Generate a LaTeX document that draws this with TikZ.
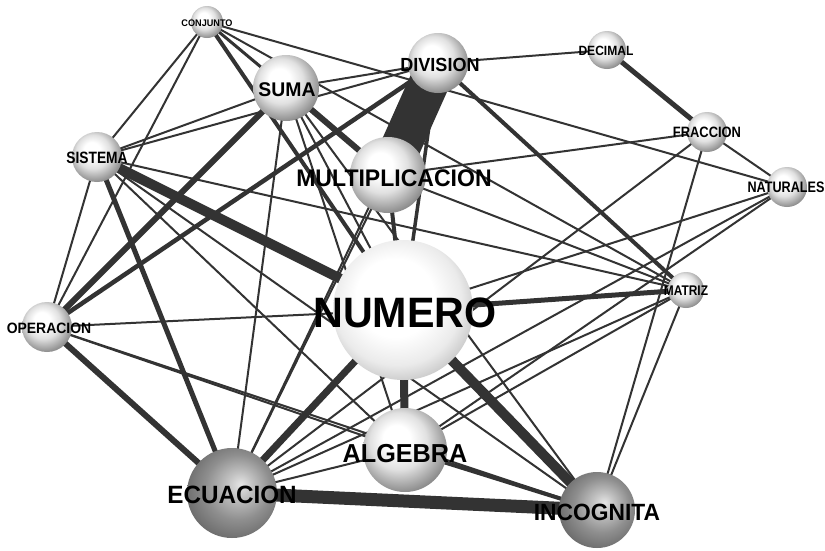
\documentclass[tikz,border=0pt]{standalone}
\usepackage{graphicx}
\usepackage{fontspec}
\setmainfont{Liberation Sans}
\pgfdeclarelayer{paper}
\pgfdeclarelayer{bg}
\pgfsetlayers{paper,bg,main}
\pgfdeclareradialshading{sphL}{\pgfpoint{-6bp}{8bp}}{color(0bp)=(white); color(8bp)=(white); color(17bp)=(black!12); color(25bp)=(black!35); color(31bp)=(black!52); color(50bp)=(black!58)}
\pgfdeclareradialshading{sphN}{\pgfpoint{-4bp}{6bp}}{color(0bp)=(white); color(14bp)=(white); color(23bp)=(black!8); color(29bp)=(black!22); color(50bp)=(black!28)}
\pgfdeclareradialshading{sphD}{\pgfpoint{5bp}{5bp}}{color(0bp)=(black!10); color(7bp)=(black!24); color(18bp)=(black!44); color(28bp)=(black!57); color(50bp)=(black!64)}
\definecolor{edgec}{gray}{0.2}
\newcommand\fsz[1]{\fontsize{#1}{#1}\selectfont\bfseries}
\newcommand\lab[3]{\scalebox{#1}[1]{\fsz{#2}#3}}
\tikzset{
  sph/.style={circle, inner sep=0pt, minimum size=#1},
  lnk/.style={draw=edgec, line cap=butt},
  lbl/.style={inner sep=0pt, text=black}
}
\begin{document}
\begin{tikzpicture}[x=1pt,y=-1pt]
\begin{pgfonlayer}{paper}
\fill[white] (0,0) rectangle (825,550);
\end{pgfonlayer}
\useasboundingbox (0,0) rectangle (825,550);
% spheres
\node[sph=32pt, shading=sphL] (con) at (207,22) {};
\node[sph=66pt, shading=sphL] (sum) at (286,88) {};
\node[sph=60pt, shading=sphL] (div) at (438,63) {};
\node[sph=38pt, shading=sphL] (dec) at (607,50) {};
\node[sph=40pt, shading=sphL] (fra) at (707,132) {};
\node[sph=40pt, shading=sphL] (nat) at (787,187) {};
\node[sph=50pt, shading=sphL] (sis) at (97,157) {};
\node[sph=76pt, shading=sphL] (mul) at (388,175) {};
\node[sph=140pt, shading=sphN] (num) at (403,310) {};
\node[sph=50pt, shading=sphL] (ope) at (47,327) {};
\node[sph=90pt, shading=sphD] (ecu) at (232,493) {};
\node[sph=84pt, shading=sphL] (alg) at (405,450) {};
\node[sph=76pt, shading=sphD] (inc) at (597,510) {};
\node[sph=36pt, shading=sphL] (mat) at (686,290) {};
% connectors
\begin{pgfonlayer}{bg}
\foreach \a/\b/\w in {
  div/mul/40, sis/num/10, ecu/inc/13, num/inc/10, num/ecu/7, num/alg/8,
  num/mat/5, dec/fra/5, div/mat/4, sum/ope/6, div/ope/4.5, sum/mul/6,
  sis/ecu/5, ope/ecu/6, con/num/4, alg/inc/4, mul/num/4, div/num/3.5, con/sum/3,
  con/sis/2, con/ope/2, con/nat/2, con/mat/2,
  sis/sum/2, sis/div/2, sis/mat/2, sis/alg/2, sis/inc/2, sis/ope/2,
  ope/num/2, ope/alg/2, ope/inc/2,
  ecu/sum/2, ecu/div/2, ecu/mul/2, ecu/alg/2, ecu/mat/2, ecu/nat/2, ecu/fra/2,
  sum/div/2, sum/alg/2, sum/inc/2, sum/num/2,
  mul/fra/2, mul/mat/2, div/dec/2, num/nat/2,
  alg/mat/2, alg/nat/2, inc/fra/2, inc/mat/2, fra/nat/2}
  \draw[lnk, line width=\w pt] (\a.center) -- (\b.center);
\end{pgfonlayer}
% labels
\node[lbl] (con-t) at (207,23) {\lab{0.95}{9.6}{CONJUNTO}};
\node[lbl] (sum-t) at (287,90) {\lab{0.98}{19.8}{SUMA}};
\node[lbl] (div-t) at (440,65) {\lab{0.95}{19}{DIVISION}};
\node[lbl] (dec-t) at (606,51) {\lab{0.9}{13.4}{DECIMAL}};
\node[lbl] (fra-t) at (707,132) {\lab{0.86}{15}{FRACCION}};
\node[lbl] (nat-t) at (786,187) {\lab{0.83}{15.2}{NATURALES}};
\node[lbl] (sis-t) at (97,158) {\lab{0.84}{16.4}{SISTEMA}};
\node[lbl] (mul-t) at (394,178) {\lab{0.96}{24}{MULTIPLICACION}};
\node[lbl] (num-t) at (405,313) {\lab{0.97}{42.5}{NUMERO}};
\node[lbl] (ope-t) at (49,328) {\lab{0.93}{15}{OPERACION}};
\node[lbl] (ecu-t) at (232,495) {\lab{0.97}{25}{ECUACION}};
\node[lbl] (alg-t) at (405,454) {\lab{0.97}{26}{ALGEBRA}};
\node[lbl] (inc-t) at (597,512) {\lab{0.97}{23.5}{INCOGNITA}};
\node[lbl] (mat-t) at (686,291) {\lab{0.85}{14}{MATRIZ}};
\end{tikzpicture}
\end{document}
